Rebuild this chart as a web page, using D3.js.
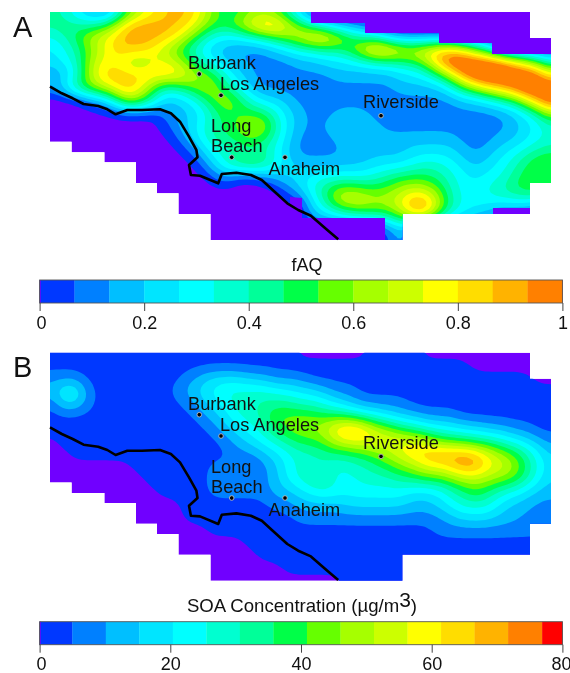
<!DOCTYPE html>
<html><head><meta charset="utf-8">
<script src="https://cdn.jsdelivr.net/npm/d3@7"></script>
<style>html,body{margin:0;padding:0;background:#fff}svg{display:block;filter:blur(0.45px)}text{font-family:"Liberation Sans",Arial,sans-serif;fill:#111}</style>
</head><body><svg id="c" width="570" height="673"></svg>
<script>
// Band index (0 = lowest colour band, -1 = purple, below the scale) read at each node of a 41x19 map grid
const fAQBands = [
[6,5,3,2,0,1,5,8,10,12,13,13,11,8,6,6,7,7,6,4,1,-1,-1,-1,-1,-1,-1,-1,-1,-1,-1,-1,-1,-1,-1,-1,-1,-1,-1,-1,-1],
[6,7,6,5,6,8,13,14,14,13,13,12,10,8,8,10,13,15,15,11,8,4,2,0,0,0,-1,-1,-1,-1,-1,-1,-1,-1,-1,-1,-1,-1,-1,-1,-1],
[4,5,7,10,11,12,13,13,13,13,12,9,6,4,3,3,4,5,7,9,11,14,14,12,8,5,5,1,0,0,0,0,-1,-1,-1,-1,-1,-1,-1,-1,-1],
[3,4,5,7,9,12,13,13,12,9,7,5,4,2,2,1,1,1,2,3,4,4,5,5,8,12,15,15,13,12,13,14,14,12,8,5,-1,-1,-1,-1,-1],
[3,4,5,9,11,11,9,7,9,11,10,8,5,4,2,2,1,1,1,1,2,2,3,3,3,3,4,4,5,6,8,13,17,17,17,17,17,13,11,8,5],
[1,1,3,8,12,13,13,13,13,13,13,11,9,8,5,3,2,1,1,1,1,1,1,2,2,2,2,2,3,3,4,6,9,14,17,17,17,17,17,15,11],
[2,4,8,9,10,11,13,11,8,4,5,7,9,9,6,4,2,1,1,1,1,1,1,1,1,1,1,1,2,2,2,2,4,7,9,12,13,15,17,17,16],
[-2,-2,-2,0,1,4,10,10,7,3,2,3,5,8,10,8,5,3,3,2,1,1,1,1,1,1,1,1,1,1,1,1,1,2,2,3,5,6,10,14,17],
[-1,-1,-1,-1,-1,-1,-1,-1,-1,0,2,2,3,5,7,7,7,7,5,3,2,1,1,2,2,2,1,1,1,1,1,1,1,1,1,1,1,2,3,5,9],
[-1,-1,-1,-1,-1,-1,-1,-1,-1,0,1,3,4,6,7,8,10,10,6,3,2,1,2,2,2,2,2,1,1,1,1,1,1,1,1,1,1,2,3,4,5],
[-1,-1,-1,-1,-1,-1,-1,-1,-1,-1,0,2,4,6,6,7,8,7,5,3,1,1,1,2,2,2,2,2,2,2,2,2,2,1,1,1,2,2,3,4,5],
[-1,-1,-1,-1,-1,-1,-1,-1,-1,-1,-1,0,2,4,5,5,5,5,4,2,1,1,1,1,2,2,2,2,2,3,3,3,3,2,1,2,3,4,5,6,6],
[-1,-1,-1,-1,-1,-1,-1,-1,-1,-1,-1,-1,0,3,5,8,9,8,5,3,2,2,2,2,2,2,3,3,3,4,5,5,4,3,2,3,4,5,7,8,9],
[-1,-1,-1,-1,-1,-1,-1,-1,-1,-1,-1,-1,-1,0,2,-1,-1,0,2,3,3,4,4,4,4,4,5,6,7,7,7,6,5,4,3,4,4,6,7,7,6],
[-1,-1,-1,-1,-1,-1,-1,-1,-1,-1,-1,-1,-1,-1,-1,-1,-1,-1,-1,1,3,5,7,9,9,8,7,8,9,10,9,8,5,4,4,5,6,7,8,8,8],
[-1,-1,-1,-1,-1,-1,-1,-1,-1,-1,-1,-1,-1,-1,-1,-1,-1,-1,-1,-1,-1,3,6,10,11,11,10,10,11,14,14,10,6,4,4,4,4,4,4,3,3],
[-1,-1,-1,-1,-1,-1,-1,-1,-1,-1,-1,-1,-1,-1,-1,-1,-1,-1,-1,-1,-1,3,3,4,5,6,6,7,9,13,13,8,5,4,3,2,0,0,0,-1,-1],
[-1,-1,-1,-1,-1,-1,-1,-1,-1,-1,-1,-1,-1,-1,-1,-1,-1,-1,-1,-1,-1,-1,-1,-1,-1,-1,-1,0,3,-1,-1,-1,-1,-1,-1,-1,-1,-1,-1,-1,-1],
[-1,-1,-1,-1,-1,-1,-1,-1,-1,-1,-1,-1,-1,-1,-1,-1,-1,-1,-1,-1,-1,-1,-1,-1,-1,-1,-1,0,3,-1,-1,-1,-1,-1,-1,-1,-1,-1,-1,-1,-1]
];
const soaBands = [
[0,0,0,0,0,0,0,0,0,0,0,0,0,0,0,0,0,0,0,0,-1,-1,-1,-1,-1,-1,0,0,0,0,-1,-1,-1,-1,-1,-1,-1,-1,-1,-1,-1],
[0,0,0,0,0,0,0,0,0,0,0,0,0,0,0,0,0,0,0,0,0,0,0,0,0,0,0,0,0,0,0,0,0,0,-1,-1,-1,-1,-1,-1,-1],
[1,1,1,0,0,0,0,0,0,0,0,1,2,3,3,3,2,2,1,1,1,0,0,0,0,0,0,0,0,0,0,0,0,0,0,0,0,0,0,-1,-1],
[2,4,5,1,0,0,0,0,0,0,1,2,3,4,5,5,5,5,4,4,3,3,2,1,1,0,0,0,0,0,0,0,0,0,0,0,0,0,0,0,0],
[0,3,3,1,0,0,0,0,0,0,0,1,2,3,4,5,5,6,6,6,5,5,4,3,2,1,1,1,1,0,0,0,0,0,0,0,0,0,0,0,0],
[0,0,0,0,0,0,0,0,0,0,0,0,1,2,3,5,5,6,8,8,8,8,7,7,6,5,4,3,2,2,1,1,1,0,0,0,0,0,0,0,0],
[0,0,0,0,0,0,0,0,0,0,0,0,0,1,2,3,4,5,7,8,9,9,10,13,14,13,10,9,7,6,5,4,4,3,3,2,2,1,1,0,0],
[-1,0,0,0,0,0,0,0,0,0,0,0,0,0,1,2,3,4,5,6,7,7,8,10,11,11,11,11,11,11,10,8,7,7,6,6,5,4,3,2,1],
[-1,-1,0,0,0,0,0,0,0,0,0,0,0,0,0,1,1,2,3,4,5,5,6,6,6,7,8,9,11,12,13,14,14,14,13,11,9,8,6,4,2],
[-1,-1,-1,-1,-1,-1,-1,0,0,0,0,0,0,1,1,1,0,1,2,4,5,5,5,4,5,5,6,7,8,9,11,11,12,14,14,11,11,9,7,4,3],
[-1,-1,-1,-1,-1,-1,-1,-1,0,0,0,0,0,1,1,1,1,1,2,4,5,6,6,4,4,5,5,5,6,6,7,7,8,9,9,9,8,8,6,4,2],
[-1,-1,-1,-1,-1,-1,-1,-1,-1,0,0,0,0,1,1,1,1,1,2,2,3,4,5,4,4,4,4,4,4,3,3,3,5,6,8,6,5,4,3,2,2],
[-1,-1,-1,-1,-1,-1,-1,-1,-1,-1,-1,0,0,0,0,0,0,0,1,1,2,2,2,2,3,3,3,3,3,2,2,3,4,5,5,5,3,2,2,1,1],
[-1,-1,-1,-1,-1,-1,-1,-1,-1,-1,-1,0,0,0,0,0,0,0,0,0,1,1,1,1,1,1,1,1,1,1,1,1,2,3,3,3,2,2,1,1,1],
[-1,-1,-1,-1,-1,-1,-1,-1,-1,-1,-1,-1,-1,0,0,0,0,0,0,0,0,0,0,0,0,0,0,0,0,0,0,1,1,1,1,1,1,1,1,1,1],
[-1,-1,-1,-1,-1,-1,-1,-1,-1,-1,-1,-1,-1,-1,-1,-1,0,0,0,0,0,0,0,0,0,0,0,0,0,0,0,0,0,0,0,0,0,0,0,0,0],
[-1,-1,-1,-1,-1,-1,-1,-1,-1,-1,-1,-1,-1,-1,-1,-1,-1,0,0,0,0,0,0,0,0,0,0,0,0,0,0,0,0,0,0,0,0,0,0,0,0],
[-1,-1,-1,-1,-1,-1,-1,-1,-1,-1,-1,-1,-1,-1,-1,-1,-1,-1,-1,0,0,0,0,0,0,0,0,0,0,0,0,0,0,0,0,0,0,0,0,0,0],
[-1,-1,-1,-1,-1,-1,-1,-1,-1,-1,-1,-1,-1,-1,-1,-1,-1,-1,-1,-1,-1,-1,-1,-1,0,0,0,0,0,0,0,0,0,0,0,0,0,0,0,0,0]
];
const bandColors = ["#0038ff","#0080ff","#00bfff","#00e5ff","#00ffff","#00ffd0","#00ff99","#00ff48","#66ff00","#a6ff00","#ccff00","#ffff00","#ffdd00","#ffb300","#ff8000","#ff0000"];
const belowColor = "#7000ff";
const fAQBreaks = d3.range(0,16).map(i=>i/15);
const soaBreaks = [0,5,10.13,15.26,20.39,25.52,30.65,35.78,40.91,46.04,51.17,56.3,61.43,66.56,71.69,76.9,80];
const fAQTicks = [0,0.2,0.4,0.6,0.8,1];
const soaTicks = [0,20,40,60,80];
// map outline and features in map units (0..501 east, 0..228 south)
const domainOutline = [[0,0],[480,0],[480,26],[501,26],[501,171],[480,171],[480,202],[352.5,202],[352.5,228],[160.5,228],[160.5,202],[128.5,202],[128.5,181.3],[107,181.3],[107,171],[86,171],[86,150.3],[54.4,150.3],[54.4,140.3],[21.6,140.3],[21.6,129.7],[0,129.7]];
const fAQMaskedAreas = [
 [[261,0],[261,11],[315,11],[315,21],[389,21],[389,31],[442,31],[442,42],[501,42],[501,0]],
 [[240,185],[252,186],[252,206],[335,206],[335,228],[240,228]],
 [[443,196],[480,196],[480,202],[443,202]]
];
const coast = [[0,74.7],[11.8,81.3],[22.7,86.3],[33.6,92],[48.2,94],[57.3,97.3],[65.6,102.3],[77.3,98],[91.8,98],[110,97.3],[120.9,101.3],[130,109.7],[139,124.7],[146.4,138],[147.5,145.3],[139,153],[140.9,163],[150,163.7],[168.2,171.3],[171.8,162],[186.4,160.7],[200.9,163],[211.8,168],[222.7,178],[237.3,191.3],[248.2,198],[260.9,203.7],[277.3,218],[288.2,227.3]];
const cityNames = ["Burbank","Los Angeles","Long Beach","Anaheim","Riverside"];
const cityPoints = [[149.3,62],[171,83.3],[181.7,145.3],[235,145.3],[331,103.7]];
const cityLabels = [[["Burbank",138,57]],[["Los Angeles",170,78]],[["Long",161,120],["Beach",161,140.3]],[["Anaheim",218.4,163]],[["Riverside",313,96.3]]];

const svg = d3.select("#c");
// Render the hand-read grid on a finer raster so that the contour edges are rounded
function refine(bands, k){
  const ny = bands.length, nx = bands[0].length;
  const w = (nx-1)*k+1, h = (ny-1)*k+1, data = new Float64Array(w*h);
  for(let j=0;j<h;j++){const fy=j/k,j0=Math.min(Math.floor(fy),ny-2),ty=fy-j0;
    for(let i=0;i<w;i++){const fx=i/k,i0=Math.min(Math.floor(fx),nx-2),tx=fx-i0;
      const v=(a,b)=>bands[a][b]+0.5;
      data[j*w+i]=(1-ty)*((1-tx)*v(j0,i0)+tx*v(j0,i0+1))+ty*((1-tx)*v(j0+1,i0)+tx*v(j0+1,i0+1));
    }}
  d3.blur2({data,width:w,height:h},k/2);
  return {data,w,h};
}
function drawMap(top, bands, nBands, masks, id, letter, letterY){
  const {data,w,h} = refine(bands,4);
  const mx = d3.scaleLinear().domain([0,501]).range([50,551]);
  const my = d3.scaleLinear().domain([0,228]).range([top,top+228]);
  const cx = d3.scaleLinear().domain([0.5,w-0.5]).range([50,551]);
  const cy = d3.scaleLinear().domain([0.5,h-0.5]).range([top,top+228]);
  const contours = d3.contours().size([w,h]).thresholds(d3.range(0,nBands))(Array.from(data));
  const path = d3.geoPath(d3.geoTransform({point(x,y){this.stream.point(cx(x),cy(y));}}));
  const poly = d3.line().x(d=>mx(d[0])).y(d=>my(d[1]));
  svg.append("clipPath").attr("id",id).append("path").attr("d",poly(domainOutline)+"Z");
  const g = svg.append("g").attr("clip-path",`url(#${id})`);
  g.append("path").attr("d",poly(domainOutline)+"Z").attr("fill",belowColor);
  g.selectAll("path.band").data(contours).join("path").attr("class","band")
    .attr("d",path).attr("fill",(d,i)=>bandColors[i]);
  g.selectAll("path.mask").data(masks).join("path").attr("class","mask")
    .attr("d",d=>poly(d)+"Z").attr("fill",belowColor);
  svg.append("path").attr("d",poly(coast)).attr("fill","none").attr("stroke","#000").attr("stroke-width",2.6).attr("stroke-linejoin","round");
  svg.selectAll(null).data(cityPoints).join("circle").attr("cx",d=>mx(d[0])).attr("cy",d=>my(d[1])).attr("r",2.3).attr("fill","#000").attr("stroke","#bbb").attr("stroke-width",0.9);
  cityLabels.forEach(lines=>lines.forEach(l=>{
    svg.append("text").attr("x",mx(l[1])).attr("y",my(l[2])).attr("font-size",18.2).text(l[0]);
  }));
  svg.append("text").attr("x",13).attr("y",letterY).attr("font-size",29).text(letter);
}
function drawBar(y0, breaks, ticks, maxV, title, titleY, labelY, fmt){
  const x = d3.scaleLinear().domain([0,maxV]).range([39.6,562.4]);
  const h = 23;
  d3.pairs(breaks).forEach((p,i)=>{
    svg.append("rect").attr("x",x(p[0])).attr("y",y0).attr("width",x(p[1])-x(p[0])+0.3).attr("height",h).attr("fill",bandColors[i]);
  });
  svg.append("rect").attr("x",39.6).attr("y",y0).attr("width",1.2).attr("height",h).attr("fill",belowColor);
  svg.append("rect").attr("x",39.6).attr("y",y0).attr("width",522.8).attr("height",h).attr("fill","none").attr("stroke","#555").attr("stroke-width",0.9);
  const axis = d3.axisBottom(x).tickValues(ticks).tickSize(8).tickFormat(fmt);
  const a = svg.append("g").attr("transform",`translate(0,${y0+h})`).call(axis);
  a.select(".domain").remove();
  a.selectAll("line").attr("stroke","#444").attr("stroke-width",1);
  a.selectAll("text").attr("y",labelY-(y0+h)).attr("dy",0).attr("font-size",18).attr("font-family","Liberation Sans")
    .attr("dx",d=>d===80?-1.5:(d===0?1.5:0));
  title(titleY);
}
drawMap(12, fAQBands, 15, fAQMaskedAreas, "clipA", "A", 36.5);
drawMap(352.7, soaBands, 16, [], "clipB", "B", 377);
drawBar(280, fAQBreaks.concat([1]), fAQTicks, 1, y=>{
  svg.append("text").attr("x",307).attr("y",y).attr("text-anchor","middle").attr("font-size",18).text("fAQ");
}, 270.5, 329, d=>d===0||d===1?String(d):d3.format(".1f")(d));
drawBar(621.7, soaBreaks, soaTicks, 80, y=>{
  const t = svg.append("text").attr("x",302).attr("y",y).attr("text-anchor","middle").attr("font-size",18.6).text("SOA Concentration (µg/m");
  t.append("tspan").attr("dy",-5).attr("font-size",21).text("3");
  t.append("tspan").attr("dy",5).text(")");
}, 611.5, 670, d=>String(d));
</script></body></html>
